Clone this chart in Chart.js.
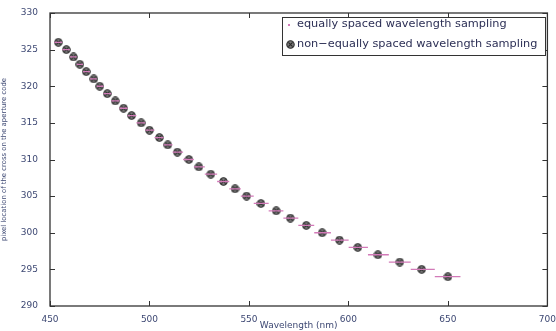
<!DOCTYPE html>
<html>
<head>
<meta charset="utf-8">
<script src="https://cdn.jsdelivr.net/npm/chart.js@4.4.0/dist/chart.umd.min.js"></script>
<style>
  html, body { margin: 0; padding: 0; background: #fff; }
  #wrap { width: 556px; height: 331px; }
</style>
</head>
<body>
<div id="wrap"><canvas id="chart" width="556" height="331"></canvas></div>
<script>
// pixel level of the cross for each wavelength step
const levels = [326, 325, 324, 323, 322, 321, 320, 319, 318, 317, 316, 315, 314, 313, 312, 311, 310,
  309, 308, 307, 306, 305, 304, 303, 302, 301, 300, 299, 298, 297, 296, 295, 294];
// non-equally spaced sampling (markers)
const markerWave = [454.2, 458.2, 461.8, 465, 468.2, 472, 475, 478.8, 482.8, 487, 491, 495.8, 500,
  505, 509.2, 514, 519.8, 524.8, 530.8, 537.2, 543, 548.8, 556, 563.7, 570.8, 578.8, 586.8, 595.5,
  604.7, 614.8, 625.8, 636.8, 650];
// equally spaced sampling: span of wavelengths that fall on each level
const pinkStart = [452.2, 456.2, 460, 463.4, 466.6, 470.1, 473.5, 476.9, 480.8, 484.9, 489, 493.4,
  497.9, 502.5, 507.1, 511.6, 516.9, 522.3, 527.8, 534, 540.1, 545.9, 552.4, 559.9, 567.3, 574.8,
  582.8, 591.2, 600.1, 609.8, 620.3, 631.3, 643.4];
const pinkEnd = [456.2, 460, 463.4, 466.6, 470.1, 473.5, 476.9, 480.8, 484.9, 489, 493.4, 497.9,
  502.5, 507.1, 511.6, 516.9, 522.3, 527.8, 534, 540.1, 545.9, 552.4, 559.9, 567.3, 574.8, 582.8,
  591.2, 600.1, 609.8, 620.3, 631.3, 643.4, 656.3];
const xTicks = [450, 500, 550, 600, 650, 700];
const yTicks = [290, 295, 300, 305, 310, 315, 320, 325, 330];

const labelColor = "#3d4873";
const pink = "#d27ab8";

function crossMarker() {
  let c = document.createElement("canvas");
  c.width = 9;
  c.height = 9;
  let g = c.getContext("2d");
  g.beginPath();
  g.arc(4.5, 4.5, 3.7, 0, Math.PI * 2);
  g.fillStyle = "#7c7c7c";
  g.fill();
  g.lineWidth = 1.1;
  g.strokeStyle = "#2b2b2b";
  g.stroke();
  g.beginPath();
  g.moveTo(2.4, 2.4); g.lineTo(6.6, 6.6);
  g.moveTo(6.6, 2.4); g.lineTo(2.4, 6.6);
  g.lineWidth = 1.2;
  g.stroke();
  return c;
}
const marker = crossMarker();

function pinkPoints() {
  let pts = [];
  for (let i = 0; i < levels.length; i++) {
    pts.push({ x: pinkStart[i], y: levels[i] });
    pts.push({ x: pinkEnd[i], y: levels[i] });
    pts.push({ x: pinkEnd[i], y: null });
  }
  return pts;
}

function markerPoints() {
  return levels.map((v, i) => ({ x: markerWave[i], y: v }));
}

// box with inward ticks on all four sides, plus the legend inside the plot
const frame = {
  id: "frame",
  afterDraw(chart) {
    let ctx = chart.ctx;
    let a = chart.chartArea;
    let xs = chart.scales.x;
    let ys = chart.scales.y;
    ctx.save();
    ctx.strokeStyle = "#333";
    ctx.lineWidth = 1.3;
    ctx.strokeRect(a.left, a.top, a.right - a.left, a.bottom - a.top);
    ctx.lineWidth = 1;
    ctx.beginPath();
    xTicks.forEach((t) => {
      let px = Math.round(xs.getPixelForValue(t)) + 0.5;
      ctx.moveTo(px, a.bottom); ctx.lineTo(px, a.bottom - 5);
      ctx.moveTo(px, a.top); ctx.lineTo(px, a.top + 5);
    });
    yTicks.forEach((t) => {
      let py = Math.round(ys.getPixelForValue(t)) + 0.5;
      ctx.moveTo(a.left, py); ctx.lineTo(a.left + 5, py);
      ctx.moveTo(a.right, py); ctx.lineTo(a.right - 5, py);
    });
    ctx.stroke();

    let lx = 282, ly = 17, lw = 263, lh = 38;
    ctx.fillStyle = "#fff";
    ctx.fillRect(lx, ly, lw, lh);
    ctx.strokeStyle = "#333";
    ctx.lineWidth = 1;
    ctx.strokeRect(lx + 0.5, ly + 0.5, lw, lh);
    ctx.font = "11.3px 'DejaVu Sans'";
    ctx.textBaseline = "middle";
    ctx.fillStyle = "#2c2f55";
    let ds = chart.data.datasets;
    ctx.fillText(ds[0].label, 297, 24.5);
    ctx.fillText(ds[1].label, 297, 44.5);
    ctx.fillStyle = pink;
    ctx.fillRect(288, 24, 2, 2);
    ctx.drawImage(marker, 286, 40);
    ctx.restore();
  },
};

const tickFont = { family: "'DejaVu Sans'", size: 9 };

new Chart(document.getElementById("chart"), {
  type: "scatter",
  data: {
    datasets: [
      {
        label: "equally spaced wavelength sampling",
        data: pinkPoints(),
        showLine: true,
        spanGaps: false,
        borderColor: pink,
        borderWidth: 1.3,
        pointRadius: 0,
      },
      {
        label: "non\u2212equally spaced wavelength sampling",
        data: markerPoints(),
        pointStyle: marker,
        pointRadius: 4.5,
      },
    ],
  },
  options: {
    responsive: false,
    animation: false,
    layout: { padding: { top: 13, right: 6, left: 0, bottom: 0 } },
    plugins: {
      legend: { display: false },
      tooltip: { enabled: false },
    },
    scales: {
      x: {
        type: "linear",
        min: 450,
        max: 700,
        afterFit: (s) => { s.height = 25; },
        afterBuildTicks: (s) => { s.ticks = xTicks.map((v) => ({ value: v })); },
        grid: { display: false },
        border: { display: false },
        ticks: { font: tickFont, color: labelColor, padding: 0, maxRotation: 0 },
        title: {
          display: true,
          text: "Wavelength (nm)",
          font: tickFont,
          color: labelColor,
          padding: { top: 0, bottom: 0 },
        },
      },
      y: {
        min: 290,
        max: 330,
        afterFit: (s) => { s.width = 50; },
        afterBuildTicks: (s) => { s.ticks = yTicks.map((v) => ({ value: v })); },
        grid: { display: false },
        border: { display: false },
        ticks: { font: tickFont, color: labelColor, padding: 4 },
        title: {
          display: true,
          text: "pixel location of the cross on the aperture code",
          font: { family: "'DejaVu Sans'", size: 6.9 },
          color: labelColor,
          padding: { top: 0, bottom: 3 },
        },
      },
    },
  },
  plugins: [frame],
});
</script>
</body>
</html>
